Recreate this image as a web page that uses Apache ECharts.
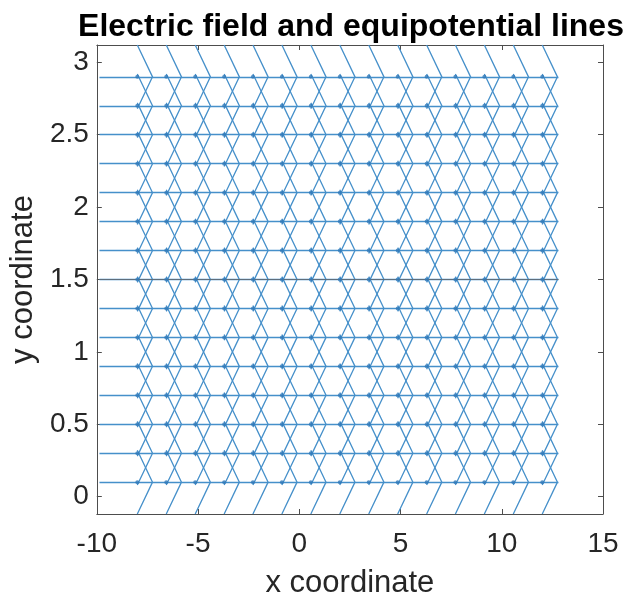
<!DOCTYPE html>
<html>
<head>
<meta charset="utf-8">
<script src="https://cdn.jsdelivr.net/npm/echarts@6/dist/echarts.min.js"></script>
<style>html,body{margin:0;padding:0;background:#fff}#c{width:629px;height:604px}</style>
</head>
<body>
<div id="c"></div>
<script>
// Arrow base columns (x) and rows (y)
var xCols = [-8, -6.57, -5.14, -3.71, -2.29, -0.86, 0.57, 2.0, 3.43, 4.86, 6.29, 7.71, 9.14, 10.57, 12.0];
var yRows = [0.1, 0.3, 0.5, 0.7, 0.9, 1.1, 1.3, 1.5, 1.7, 1.9, 2.1, 2.3, 2.5, 2.7, 2.9];
var headLength = 0.75;   // horizontal length of arrowheads
var headHalf = 0.22;     // vertical half-width of arrowheads
var shaftStart = -9.87;
var shaftEnd = 12.8;
var equipotentialY = [1.5];
var xTicks = [-10, -5, 0, 5, 10, 15];
var yTicks = [0, 0.5, 1, 1.5, 2, 2.5, 3];

var shafts = yRows.map(function (y) { return { coords: [[shaftStart, y], [shaftEnd, y]] }; });
var heads = [];
var dots = [];
xCols.forEach(function (x) {
  yRows.forEach(function (y) {
    heads.push({ coords: [[x, y + headHalf], [x + headLength, y], [x, y - headHalf]] });
    dots.push([x, y]);
  });
});
var equi = equipotentialY.map(function (y) { return { coords: [[shaftStart, y], [shaftEnd, y]] }; });

var blue = '#4690ca';
var axisCol = '#4d4d4d';
var txt = '#262626';
var font = 'Liberation Sans, Arial, sans-serif';

var chart = echarts.init(document.getElementById('c'), null, { renderer: 'canvas' });
chart.setOption({
  animation: false,
  backgroundColor: '#fff',
  title: {
    text: 'Electric field and equipotential lines',
    left: 346, top: 6, textAlign: 'center',
    textStyle: { fontFamily: font, fontWeight: 'bold', fontSize: 32, color: '#000' }
  },
  grid: { left: 94, right: 26, top: 45, bottom: 87, containLabel: false },
  xAxis: [{
    type: 'value', min: -10, max: 15, position: 'bottom',
    name: 'x coordinate', nameLocation: 'middle', nameGap: 54,
    nameTextStyle: { fontFamily: font, fontSize: 31, color: txt },
    axisLine: { show: true, onZero: false, lineStyle: { color: axisCol, width: 1 } },
    axisTick: { show: true, inside: true, length: 5, customValues: xTicks, lineStyle: { color: axisCol } },
    axisLabel: { customValues: xTicks, fontFamily: font, fontSize: 28, color: txt, margin: 16, showMinLabel: true, showMaxLabel: true },
    splitLine: { show: false }
  }, {
    type: 'value', min: -10, max: 15, position: 'top',
    axisLine: { show: true, onZero: false, lineStyle: { color: axisCol, width: 1 } },
    axisTick: { show: true, inside: true, length: 5, customValues: xTicks, lineStyle: { color: axisCol } },
    axisLabel: { show: false }, splitLine: { show: false }
  }],
  yAxis: [{
    type: 'value', min: -0.12, max: 3.12, position: 'left',
    name: 'y coordinate', nameLocation: 'middle', nameGap: 52, nameRotate: 90,
    nameTextStyle: { fontFamily: font, fontSize: 31, color: txt },
    axisLine: { show: true, onZero: false, lineStyle: { color: axisCol, width: 1 } },
    axisTick: { show: true, inside: true, length: 5, customValues: yTicks, lineStyle: { color: axisCol } },
    axisLabel: { customValues: yTicks, fontFamily: font, fontSize: 28, color: txt, margin: 8 },
    splitLine: { show: false }
  }, {
    type: 'value', min: -0.12, max: 3.12, position: 'right',
    axisLine: { show: true, onZero: false, lineStyle: { color: axisCol, width: 1 } },
    axisTick: { show: true, inside: true, length: 5, customValues: yTicks, lineStyle: { color: axisCol } },
    axisLabel: { show: false }, splitLine: { show: false }
  }],
  series: [{
    type: 'lines', coordinateSystem: 'cartesian2d', polyline: false,
    data: shafts, lineStyle: { color: blue, width: 1.3, opacity: 1 }, silent: true
  }, {
    type: 'lines', coordinateSystem: 'cartesian2d', polyline: true,
    data: heads, lineStyle: { color: blue, width: 1.3, opacity: 1 }, silent: true
  }, {
    type: 'scatter', data: dots, symbol: 'circle', symbolSize: 4,
    itemStyle: { color: '#2f78b8' }, silent: true
  }, {
    type: 'lines', coordinateSystem: 'cartesian2d', polyline: false,
    data: equi, lineStyle: { color: '#5f6a74', width: 1.1, opacity: 0.9 }, silent: true
  }]
});
</script>
</body>
</html>
